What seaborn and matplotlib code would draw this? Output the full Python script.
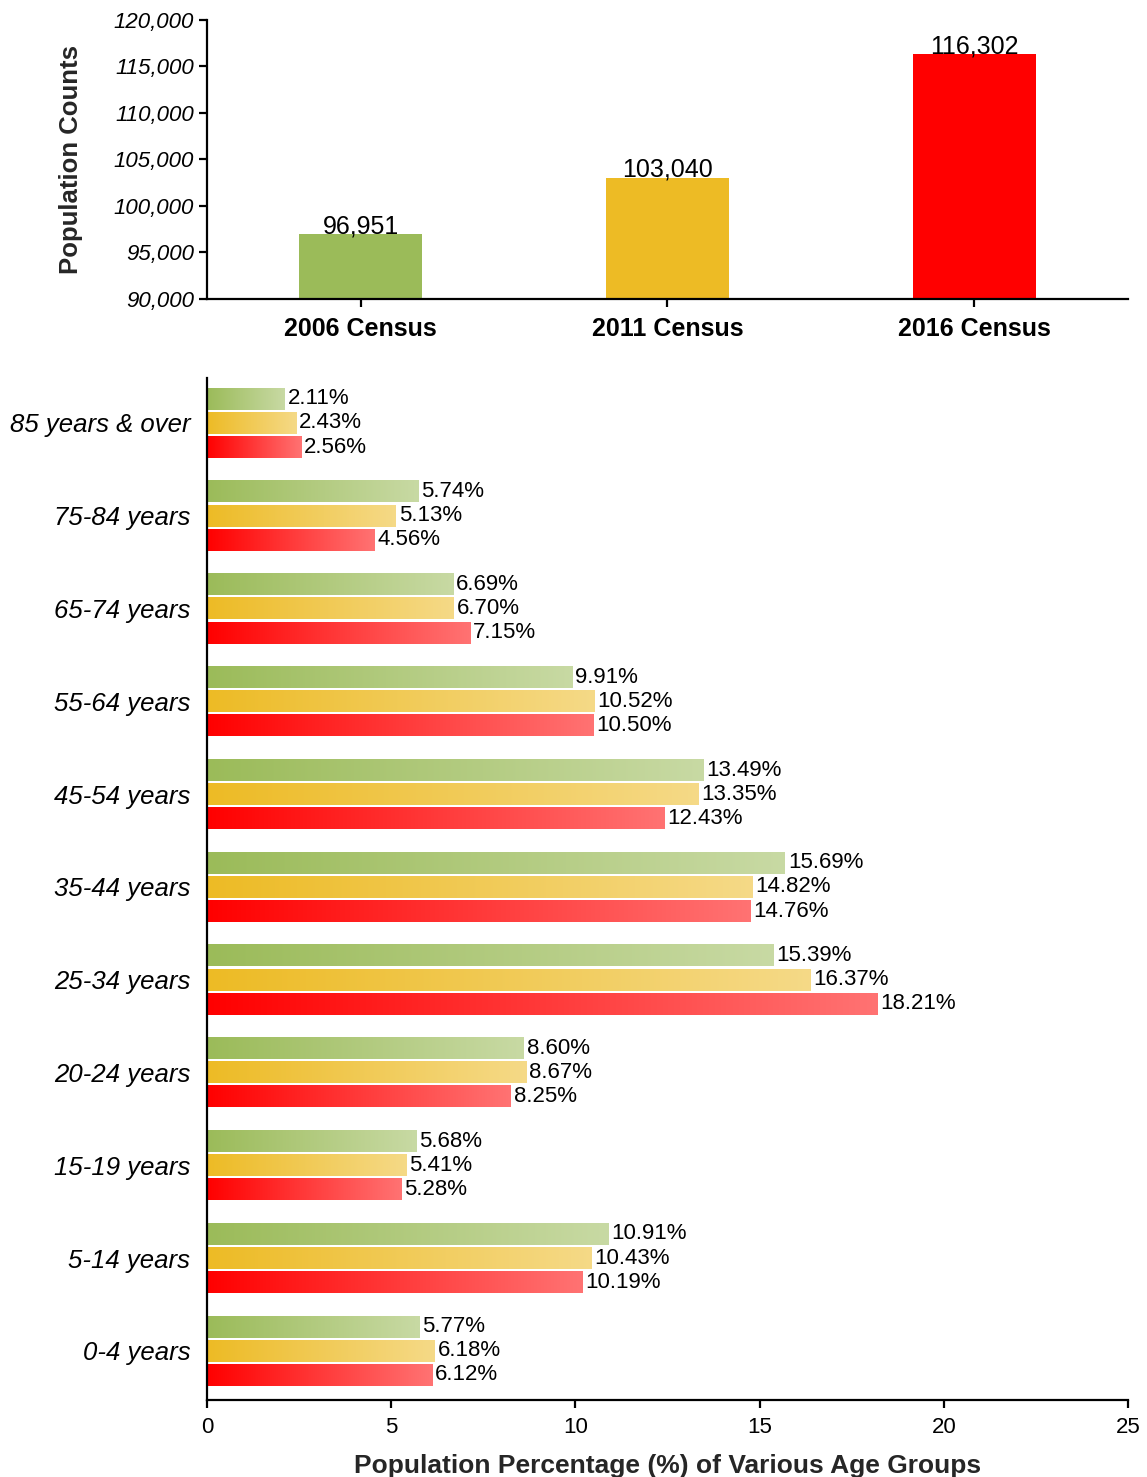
import numpy as np
import pandas as pd
import matplotlib
matplotlib.use('Agg')
import matplotlib.pyplot as plt
import seaborn as sns
from matplotlib.colors import to_rgb, LinearSegmentedColormap
from matplotlib.ticker import FuncFormatter

# data
censuses = ['2006 Census', '2011 Census', '2016 Census']
population = [96951, 103040, 116302]
colors = ['#9BBB59', '#EDBB25', '#FF0000']

age_groups = ['85 years & over', '75-84 years', '65-74 years', '55-64 years',
              '45-54 years', '35-44 years', '25-34 years', '20-24 years',
              '15-19 years', '5-14 years', '0-4 years']
pct_2006 = [2.11, 5.74, 6.69, 9.91, 13.49, 15.69, 15.39, 8.60, 5.68, 10.91, 5.77]
pct_2011 = [2.43, 5.13, 6.70, 10.52, 13.35, 14.82, 16.37, 8.67, 5.41, 10.43, 6.18]
pct_2016 = [2.56, 4.56, 7.15, 10.50, 12.43, 14.76, 18.21, 8.25, 5.28, 10.19, 6.12]

df = pd.DataFrame({
    'age': age_groups * 3,
    'census': [c for c in censuses for _ in age_groups],
    'pct': pct_2006 + pct_2011 + pct_2016,
})

sns.set_theme(style='ticks', rc={'axes.edgecolor': 'black', 'axes.linewidth': 1.6,
                                 'xtick.color': 'black', 'ytick.color': 'black',
                                 'xtick.major.width': 1.6, 'ytick.major.width': 1.6,
                                 'xtick.major.size': 6, 'ytick.major.size': 6})
plt.rcParams['font.family'] = ['Liberation Sans', 'DejaVu Sans']
plt.rcParams['text.color'] = 'black'

fig = plt.figure(figsize=(11.47, 14.77), dpi=100)

# --- top: population counts ---
ax1 = fig.add_axes([0.1805, 0.7976, 0.8029, 0.1889])
sns.barplot(x=censuses, y=population, hue=censuses, palette=colors, width=0.4,
            saturation=1, linewidth=0, legend=False, ax=ax1)
for cont in ax1.containers:
    ax1.bar_label(cont, labels=[f'{int(v):,}' for v in cont.datavalues],
                  fontsize=18, padding=-3)
ax1.set_ylim(90000, 120000)
ax1.set_xlim(-0.5, 2.5)
ax1.set_yticks(range(90000, 120001, 5000))
ax1.yaxis.set_major_formatter(FuncFormatter(lambda v, p: f'{int(v):,}'))
ax1.tick_params(axis='x', pad=7)
for t in ax1.get_yticklabels():
    t.set_fontstyle('italic')
    t.set_fontsize(16)
for t in ax1.get_xticklabels():
    t.set_fontweight('bold')
    t.set_fontsize(18)
ax1.set_ylabel('Population Counts', fontsize=18.5, fontweight='bold', labelpad=22)
ax1.set_xlabel('')
sns.despine(ax=ax1)

# --- bottom: age group percentages with gradient bars ---
ax2 = fig.add_axes([0.1805, 0.0521, 0.8029, 0.692])
sns.barplot(data=df, x='pct', y='age', hue='census', order=age_groups,
            hue_order=censuses, palette=colors, orient='h', width=0.78, gap=0.1,
            saturation=1, linewidth=0, legend=False, ax=ax2)

grad = np.linspace(0, 1, 256).reshape(1, -1)
for cont, c in zip(ax2.containers, colors):
    base = np.array(to_rgb(c))
    light = base + (1 - base) * 0.45
    cmap = LinearSegmentedColormap.from_list('g', [base, light])
    for patch in cont:
        x0, y0 = patch.get_x(), patch.get_y()
        w, h = patch.get_width(), patch.get_height()
        ax2.imshow(grad, extent=[x0, x0 + w, y0 + h, y0], aspect='auto',
                   cmap=cmap, zorder=patch.get_zorder())
        patch.set_facecolor('none')
    ax2.bar_label(cont, labels=[f'{v:.2f}%' for v in cont.datavalues],
                  fontsize=16, padding=2)

ax2.set_xlim(0, 25)
ax2.set_ylim(10.53, -0.485)
ax2.set_xticks(range(0, 26, 5))
ax2.tick_params(axis='x', labelsize=16, pad=6)
ax2.tick_params(axis='y', length=0, pad=12)
for t in ax2.get_yticklabels():
    t.set_fontstyle('italic')
    t.set_fontsize(18.5)
ax2.set_xlabel('Population Percentage (%) of Various Age Groups', fontsize=19,
               fontweight='bold', labelpad=12)
ax2.set_ylabel('')
sns.despine(ax=ax2)

fig.savefig('out.png', dpi=100)
